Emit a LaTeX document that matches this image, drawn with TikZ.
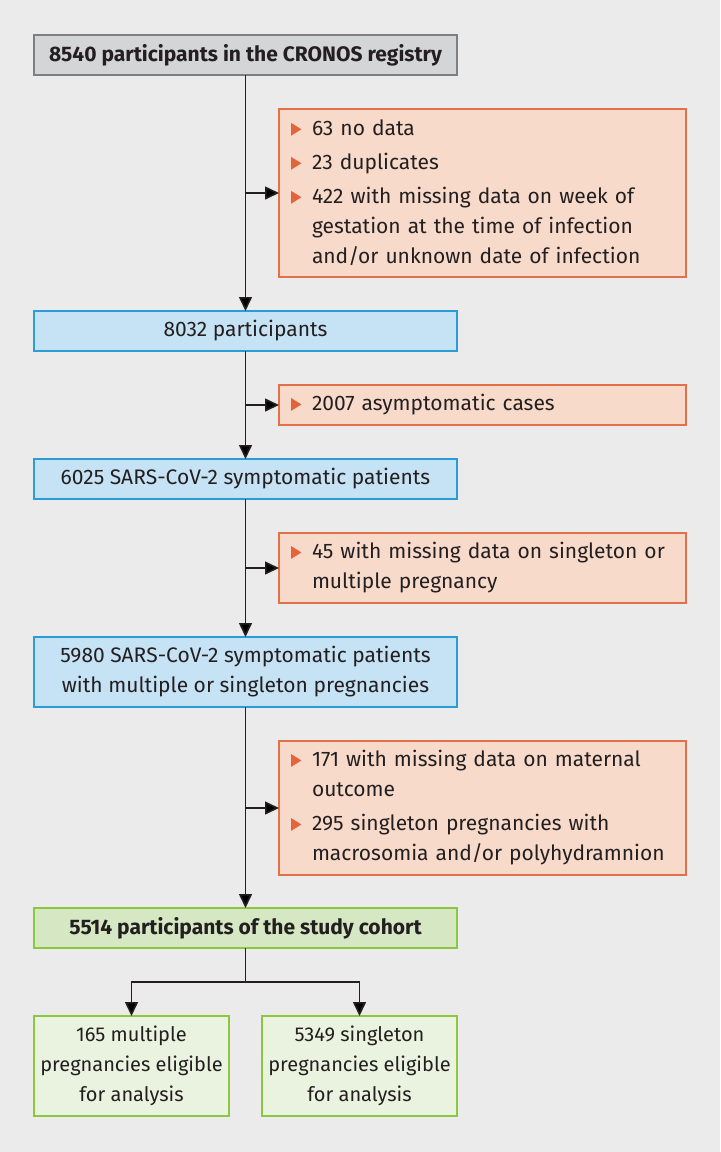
\documentclass[tikz,border=0pt]{standalone}
\usepackage{fontspec}
\setmainfont{Fira Sans}
\usetikzlibrary{arrows.meta,positioning}

\definecolor{bggray}{HTML}{EBEBEB}
\definecolor{regfill}{HTML}{D4D5D6}
\definecolor{regdraw}{HTML}{7F7F7F}
\definecolor{exfill}{HTML}{F8DACB}
\definecolor{exdraw}{HTML}{E2704B}
\definecolor{exbullet}{HTML}{E2643B}
\definecolor{bluefill}{HTML}{C6E2F5}
\definecolor{bluedraw}{HTML}{2C9BD6}
\definecolor{greenfill}{HTML}{D5E8C3}
\definecolor{leaffill}{HTML}{EAF3DF}
\definecolor{greendraw}{HTML}{8DC63F}
\definecolor{linecol}{HTML}{231F20}

\newcommand{\exmark}{\tikz[baseline=0pt]\fill[exbullet] (0,0) -- (0,6.5pt) -- (5.2pt,3.25pt) -- cycle;}
\newcommand{\exitem}[1]{\hangindent=10.5pt\hangafter=1\noindent\makebox[10.5pt][l]{\exmark}#1\par}

\begin{document}
\begin{tikzpicture}[
    x=0.5pt,y=-0.5pt,
    every node/.style={
        inner sep=0pt,
        outer sep=0pt,
        text=linecol,
        font=\fontsize{10.5}{15}\selectfont,
    },
    mainbox/.style={
        draw=#1,
        line width=0.8pt,
        rectangle,
        anchor=north west,
        align=center,
        minimum width=211.5pt,
        minimum height=20pt,
    },
    exclbox/.style={
        draw=exdraw,fill=exfill,
        line width=0.8pt,
        rectangle,
        anchor=north west,
        align=left,
        inner xsep=6pt,
        text width=191.5pt,
        minimum width=203.5pt,
        execute at begin node={\setlength{\parskip}{2pt}\hyphenpenalty=10000\exhyphenpenalty=10000},
    },
    leafbox/.style={
        draw=greendraw,fill=leaffill,
        line width=0.8pt,
        rectangle,
        anchor=north west,
        align=center,
        font=\fontsize{10}{15}\selectfont,
        minimum width=97.5pt,
        minimum height=50pt,
    },
    arrow/.style={
        draw=linecol,
        line width=0.8pt,
        -{Triangle[length=7pt,width=6.5pt]},
    }
]
    \fill[bggray] (0,0) rectangle (720,1152);
    \useasboundingbox (0,0) rectangle (720,1152);

    % main column
    \node[mainbox=regdraw,fill=regfill,font=\fontsize{10.5}{15}\selectfont\bfseries] (registry) at (34,35) {8540 participants in the CRONOS registry};
    \node[mainbox=bluedraw,fill=bluefill] (part) at (34,311) {8032 participants};
    \node[mainbox=bluedraw,fill=bluefill] (sympt) at (34,459) {6025 SARS-CoV-2 symptomatic patients};
    \node[mainbox=bluedraw,fill=bluefill,minimum height=35pt] (preg) at (34,637) {5980 SARS-CoV-2 symptomatic patients\\with multiple or singleton pregnancies};
    \node[mainbox=greendraw,fill=greenfill,font=\fontsize{10.5}{15}\selectfont\bfseries] (cohort) at (34,908) {5514 participants of the study cohort};

    % exclusions
    \node[exclbox,minimum height=84pt] (exa) at (279,109) {%
        \exitem{63 no data}
        \exitem{23 duplicates}
        \exitem{422 with missing data on week of gestation at the time of infection and/or unknown date of infection}};
    \node[exclbox,minimum height=20pt] (exb) at (279,385) {%
        \exitem{2007 asymptomatic cases}};
    \node[exclbox,minimum height=35pt] (exc) at (279,533) {%
        \exitem{45 with missing data on singleton or multiple pregnancy}};
    \node[exclbox,minimum height=67pt] (exd) at (279,741) {%
        \exitem{171 with missing data on maternal outcome}
        \exitem{295 singleton pregnancies with macrosomia and/or polyhydramnion}};

    % eligible groups
    \node[leafbox] (multi) at (34,1016) {165 multiple\\pregnancies eligible\\for analysis};
    \node[leafbox] (single) at (262,1016) {5349 singleton\\pregnancies eligible\\for analysis};

    \foreach \a/\b in {registry/part,part/sympt,sympt/preg,preg/cohort}
        \draw[arrow] (\a) -- (\b);
    \foreach \a/\e in {registry/exa,part/exb,sympt/exc,preg/exd}
        \draw[arrow] (\a.south |- \e.west) -- (\e.west);
    \coordinate (split) at ([yshift=-17pt]cohort.south);
    \draw[arrow] (cohort.south) -- (split) -| (multi.north);
    \draw[arrow] (split) -| (single.north);
\end{tikzpicture}
\end{document}
